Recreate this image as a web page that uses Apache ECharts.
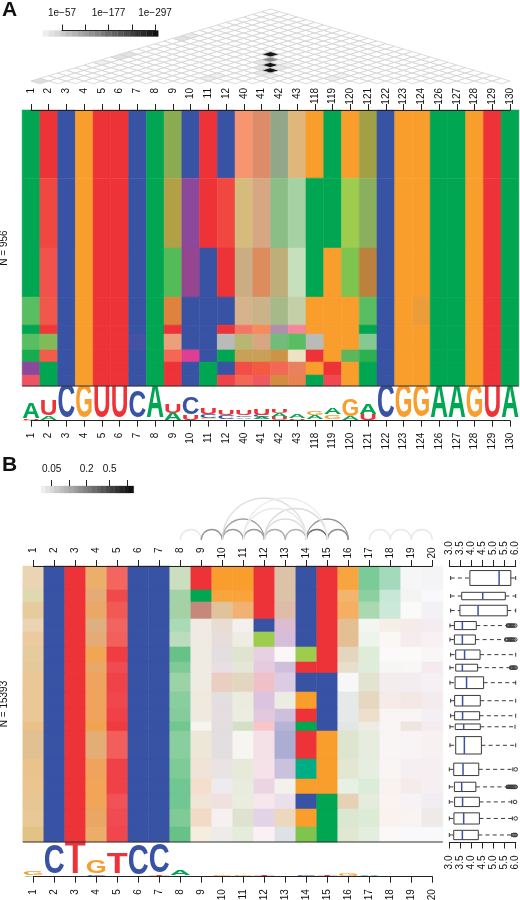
<!DOCTYPE html>
<html><head><meta charset="utf-8">
<style>html,body{margin:0;padding:0;background:#fff}#c{width:520px;height:900px}</style>
<script src="https://cdn.jsdelivr.net/npm/echarts@6/dist/echarts.min.js"></script>
</head><body><div id="c"></div>
<script>
// ---------- axis categories ----------
const columnsA = ['1','2','3','4','5','6','7','8','9','10','11','12','40','41','42','43','118','119','120','121','122','123','124','126','127','128','129','130'];
const columnsB = ['1','2','3','4','5','6','7','8','9','10','11','12','13','14','15','16','17','18','19','20'];
// ---------- cluster sizes (sequences per row) ----------
const rowCountsA = [236,242,170,97,31,55,42,45,38];
const rowCountsB = [1337,669,948,725,837,837,613,1060,948,725,502,1562,1115,837,837,1004,837];
// ---------- panel A composition per row: base + percent, remainder unassigned ----------
const heatA1 = 'A U C G U U C A A45G45 C U C G35U35 A10G25U40 A30C15G15U10 A10G45U10 G A G A35G55U5 C G G A A G U A'.split(' ');
const heatA2 = 'A G10U85 C G U U C A A25C5G65 P U G10U85 A15G45U5 A10C5G30U20 A45G15U5 A35G15 A A L A45G40 C G G A A G U A'.split(' ');
const heatA3 = 'A G10U80 C G U U C A A50L45 P90U10 C U A15C5G30U15 A10G35U35 A20C5G35U10 A22G13 A G L80A20 A20C5G50U25 C G G A A G U A'.split(' ');
const heatA4 = 'A50L40 G15U75 C G U U C A A10G55U30 C C C A12C3G30U15 A15C5G30U12 A30C5G25U5 A20C3G22U2 G G G A50L40 C G A5G85U5 A A G U A'.split(' ');
const heatA5 = 'A U95G5 C G U U C A U C C U G15U60 G45U35 P45A10U10 U40M20 G G G A C G G A A G U A'.split(' ');
const heatA6 = 'A50L40 A35L35G20 C G U U C85P15 A A5G30U30 C C N A25C3G45 A10C5G30U20 A55G18 A50L40 N G G A47G13 C G G A A G U A'.split(' ');
const heatA7 = 'A85L15 G20U70 C G U U C A G20U65 M C A A17C3G55U10 A17C3G55U10 A15C3G60U15 A7G22 U G A55G15L20 A72L28 C G G A A G U A'.split(' ');
const heatA8 = 'P A C G U U C A U C A C G10U82 G28U67 G20U65 A5G30U45 G U G A C G G A A G U A'.split(' ');
const heatA9 = 'U70M15 A C G U U C A U C A U92 G20U65 U70M10G5 A12C3G60U20 A5G40U40 A U85M5 G A C G G A A G U A'.split(' ');
const heatA = [heatA1,heatA2,heatA3,heatA4,heatA5,heatA6,heatA7,heatA8,heatA9];
// ---------- panel B composition per column ----------
const heatB1 = 'A5C3G28T3 A12G28 A5C5G40 A5C3G28T3 A5C3G38T3 A5C5G40 A5C5G42 A3C5G46 A3C5G46 A3C5G46 A3C5G52 A6C6G42T3 A3C5G50 A3C5G48 A4C5G46 A4C5G44 A8C3G50'.split(' ');
const heatB2 = 'C C C C C C C C C C C C C C C C C'.split(' ');
const heatB3 = 'T T T T T T T T T T T T T T T T T'.split(' ');
const heatB4 = 'A2C5G62T5 A3C7G50T10 A2C6G60T8 A5C8G45T8 A3C7G50T10 C5G78T2 A2C6G60T8 C5G68T8 C5G68T8 C5G68T8 C4G80T3 A3C7G52T8 C5G68T8 C4G72T6 C4G72T6 A2C6G62T8 A3C4G62T5'.split(' ');
const heatB5 = 'G10T70 G3T88 G7T78 G8T72 G8T74 T95 T88 T92 T90 T93 T96 G8T75 T93 T93 T85 T88 T90'.split(' ');
const heatB6 = 'C C C C C C C C C C C C C C C C C'.split(' ');
const heatB7 = 'C C C C C C C C C C C C C C C C C'.split(' ');
const heatB8 = 'A20G14 A36G12 A35G14 A33G8 A25C2G10 A60G8 A50G8 A39G10 A46G8 A48G8 A55G8 A46G8 A50G8 A56G6 A56G6 A50G8 A60G8'.split(' ');
const heatB9 = 'T A A12C10G10T40 A2C5G8T1 A2C5G10 A2C5G10 A2C5G10 A2C5G10 A2C5G12 A2C5G11 A1C3G4T1 A4C4G14 A1C6G14T1 C5G18T3 A1C5G15T1 C6G22T2 A1C3G12'.split(' ');
const heatB10 = 'G G92 A5C8G38T2 A2C8G12T4 A2C9G8T4 A3C10G3T5 A1C9G2T7 A1C8G18T8 A3C10G3T5 A2C10G3T6 A3C9G4T5 A3C10G3T5 A2C8G4T4 A1C7G1T3 C7G7T6 C4G2T3 A3C5G4T2'.split(' ');
const heatB11 = 'G G94 C5G60T5 A1C4G3T2 A3C4G8T1 A9C4G13 A7C4G10T1 A4C8G22T1 A6C2G10 A6C2G9 A15C2G14 A1C3G4 A7C3G11 A7C2G10 A7C2G9 A9C4G14 A8C2G9'.split(' ');
const heatB12 = 'T T T C L P20T5 P22T6 P10T22 P32 P25T4 T26P2 P8T8 P8T7 P16T6 P6T7 P24 P3T4'.split(' ');
const heatB13 = 'A5C10G28T6 A5C10G28T6 A4C10G22T12 P28T8 P36 C2G1T2 C10P25 P25C3 A4C4G7T1 C10P25 C28P15 C35P12 C15P20 A1C4G7 C6P8T3 A3C5G27 A2C14G3'.split(' ');
const heatB14 = 'C C C C C L T C G T A T Q G C G L80A20'.split(' ');
const heatB15 = 'T T T T T T T C C C C G G G A A A'.split(' ');
const heatB16 = 'G92 C4G68 C2G70T4 A3C8G42T3 A3C8G42T3 A4C8G24 A3C7G19 A1C3G2 A4C8G3T1 A4C8G3T1 A4C9G4T1 A11C2G13 A9C2G13 A9C1G5 A3C8G30 A13C1G11 A11C1G12'.split(' ');
const heatB17 = 'A52G6 A45G8 A33G10 A3C2G4 A5C2G4 A11C1G8 A13G7 A8C4G14 A3C8G24 A2C6G20 A3C4G9 A8C2G8 A8C2G7 A14G7 A8C2G9 A14G8 A10C1G7'.split(' ');
const heatB18 = 'A34C2G3 A19C3G2 A18C3G2 A1C3G8T1 C2G3T1 C2G1T1 A1C3G3 C5G3T3 C4G5T4 C3G3T1 C3G3T1 C3G3T1 C3G3T1 C3G4T2 C2G4T2 C2G6T2 C2G2T1'.split(' ');
const heatB19 = 'A1C3G1T1 A1C4G3 C2G1T1 C4G3T5 C4G2T5 C2G1T1 C3G2T1 C5G1T4 C5G6T4 C3G3T1 A2C6G8T3 C3G1T3 C4G1T4 C4G3T5 C4G2T2 C3G3T2 C3T1'.split(' ');
const heatB20 = 'A1C4G1T1 C3T1 C6T2 C5T5 C3T5 C3G2T1 C5T6 C5T3 C5G3T4 C6T3 C5T5 C3G1T4 C4G1T4 C4G1T4 C7T3 A2C6G5T2 C3T1'.split(' ');
const heatB = [heatB1,heatB2,heatB3,heatB4,heatB5,heatB6,heatB7,heatB8,heatB9,heatB10,heatB11,heatB12,heatB13,heatB14,heatB15,heatB16,heatB17,heatB18,heatB19,heatB20];
// ---------- significance triangle: [i, j, level], all other pairs are 0 ----------
const pairHitsA = [[8,19,1],[9,18,.5],[10,17,1],[11,16,1],[0,1,.14],[0,8,.07],[0,10,.12],[0,11,.12],[0,17,.12],[0,18,.09],[9,11,.08],[9,12,.06],[16,18,.07],[16,19,.05],[11,18,.06],[10,18,.05],[12,15,.08],[11,15,.1],[10,16,.12],[9,17,.1],[11,17,.1]];
// ---------- co-variation arcs panel B: [i, j, strength] ----------
const arcsB = [[7,8,.06],[8,9,.6],[9,10,.55],[10,11,.55],[11,12,.45],[12,13,.4],[13,14,.85],[14,15,.65],[16,17,.05],[17,18,.05],[18,19,.06],[9,11,.55],[13,15,.6],[11,13,.14],[9,13,.12],[11,14,.14],[10,13,.04],[10,14,.03]];
// ---------- logo stacks: letter + bits*100, bottom to top ----------
const logoA = ['G3 U5 A92','A25 U90','C195','G195','U198','U198','U8 C155','A195','A42 U55','U27 C95','A8 G7 C20 U40','A8 C20 U30','G8 A10 C10 U30','G8 A12 C12 U35','U20 A25 U20','G5 U8 A20','U8 A22 G20','U10 G25 A40','A20 G95','U35 A60','C195','G195','C5 G190','A195','A195','G195','U195','A195'];
const logoB = ['A10 G25','A3 C170','T198','A4 C8 G75','G10 T120','C175','G5 T5 C165','G5 A30','G3','A3 G8','A3 G8','A3 T10','C5','G3 C8','A2 T5','A5 G12','T2 A8','G1','G3','C2'];
// ---------- boxplots panel B ----------
const boxLow  = [3.06,3.06,3.06,3.03,3.03,3.06,3.03,3.03,3.06,3.06,3.03,3.03,3.0,3.0,3.0,3.0,3.0];
const boxQ1   = [3.93,3.56,3.48,3.23,3.23,3.29,3.29,3.26,3.24,3.24,3.27,3.29,3.2,3.23,3.24,3.21,3.2];
const boxMed  = [5.25,4.51,4.3,3.59,3.59,3.69,3.59,3.78,3.6,3.6,3.65,3.68,3.62,3.56,3.6,3.65,3.59];
const boxQ3   = [5.78,5.53,5.62,4.22,4.18,4.39,4.28,4.55,4.4,4.37,4.4,4.45,4.33,4.2,4.36,4.36,4.31];
const boxHigh = [6,6,6,5.6,5.52,6,5.75,6,6,6,5.97,6,5.87,5.6,5.82,5.85,5.82];
const boxOutliers = [[],[],[],[5.65,5.7,5.75,5.8,5.85,5.9,5.98],[5.58,5.63,5.7,5.75,5.8,5.85,5.9,5.98],[],[5.8,5.85,5.9,5.95,6],[],[],[],[],[],[6],[5.65,5.7,5.75,5.8,5.85,5.9,5.95,6],[5.97],[6],[5.9,5.95,6]];
// ---------- colour keys ----------
const keyTicksA = [57,117,177,237,297];
const keyLabelsA = {57:'1e\u221257',177:'1e\u2212177',297:'1e\u2212297'};
const keyLevelsA = [15,30,45,60,74,89,104,119,134,149,164,178,193,208,223,238,253,268,283,298];
const keyTicksB = [0.05,0.1,0.2,0.5,1];
const keyLabelsB = {0.05:'0.05',0.2:'0.2',0.5:'0.5'};
const keyLevelsB = [0.036,0.043,0.052,0.062,0.075,0.09,0.108,0.13,0.156,0.187,0.225,0.27,0.325,0.39,0.47,0.56,0.68,0.81,0.98,1.18];

// ---------- styling ----------
const FONT = '"Liberation Sans",Arial,sans-serif';
const base = {A:[0,166,81],C:[57,83,164],G:[249,157,45],U:[238,51,56],T:[238,51,56],N:[185,187,185],L:[157,204,78],P:[140,72,155],M:[224,62,148],Q:[0,174,134]};
const letterFill = {A:'#00a651',C:'#3953a4',G:'#f99d2d',U:'#ee3338',T:'#ee3338'};
const letterWidth = {A:.722,C:.722,G:.778,U:.722,T:.611};
const AXIS = '#222';
function mix(code){
  let r=0,g=0,b=0,sum=0;
  for(const m of code.matchAll(/([A-Z])(\d*)/g)){
    const w = m[2]===''?1:+m[2]/100, c=base[m[1]];
    r+=w*c[0];g+=w*c[1];b+=w*c[2];sum+=w;
  }
  const rest=Math.max(0,1-sum);
  return `rgb(${Math.round(r+rest*255)},${Math.round(g+rest*255)},${Math.round(b+rest*255)})`;
}
const cumul = a=>{const o=[0];a.forEach(v=>o.push(o[o.length-1]+v));return o;};
const sum = a=>a.reduce((x,y)=>x+y,0);
const grey = t=>{const v=Math.round(238-t*222);return `rgb(${v},${v},${v})`;};

function heatItem(api,c,y0,y1,code){
  const p0=api.coord([c-.5,y0]),p1=api.coord([c+.5,y1]);
  const fill=mix(code);
  return {type:'rect',shape:{x:p0[0],y:p0[1],width:p1[0]-p0[0],height:p1[1]-p0[1]},style:{fill,stroke:fill,lineWidth:.5}};
}
function heatSeries(idx,rows,getCode,nCols){
  const edges=cumul(rows),data=[];
  rows.forEach((_,r)=>{for(let c=0;c<nCols;c++)data.push([c,r]);});
  return {type:'custom',coordinateSystem:'cartesian2d',xAxisIndex:idx,yAxisIndex:idx,data,silent:true,z:1,
    renderItem:(p,api)=>{const c=api.value(0),r=api.value(1);return heatItem(api,c,edges[r],edges[r+1],getCode(c,r));}};
}
function edgeLine(idx,nCols,total){
  return {type:'custom',coordinateSystem:'cartesian2d',xAxisIndex:idx,yAxisIndex:idx,data:[[0,total]],silent:true,z:3,
    renderItem:(p,api)=>{const a=api.coord([-.5,total]),b=api.coord([nCols-.5,total]);
      return {type:'line',shape:{x1:a[0],y1:a[1],x2:b[0],y2:b[1]},style:{stroke:'#333',lineWidth:1.2}};}};
}
function logoSeries(idx,stacks){
  const items=[];
  stacks.forEach((s,c)=>{let y=0;s.split(' ').forEach(t=>{const h=+t.slice(1)/100;items.push({c,y0:y,y1:y+h,l:t[0]});y+=h;});});
  const F=40;
  return {type:'custom',coordinateSystem:'cartesian2d',xAxisIndex:idx,yAxisIndex:idx,silent:true,z:2,
    data:items.map(o=>[o.c,o.y0]),
    renderItem:(p,api)=>{const o=items[p.dataIndex];
      const a=api.coord([o.c,o.y0]),b=api.coord([o.c,o.y1]),w=api.size([1,0])[0];
      return {type:'text',x:a[0],y:(a[1]+b[1])/2,scaleX:w*1.0/(F*letterWidth[o.l]),scaleY:(a[1]-b[1])/(F*.70),
        style:{text:o.l,fill:letterFill[o.l],font:`bold ${F}px ${FONT}`,textAlign:'center',textVerticalAlign:'middle',align:'center',verticalAlign:'middle'}};}};
}
function keySeries(idx,levels,toPos,dW){
  const pos=levels.map(toPos);
  return {type:'custom',coordinateSystem:'cartesian2d',xAxisIndex:idx,yAxisIndex:idx,silent:true,z:1,data:levels.map((v,i)=>[pos[i],0]),
    renderItem:(p,api)=>{const i=p.dataIndex,v=pos[i];
      const a=api.coord([v-dW/2,1]),b=api.coord([v+dW/2,0]),f=grey(i/(levels.length-1));
      return {type:'rect',shape:{x:a[0],y:a[1],width:b[0]-a[0],height:b[1]-a[1]},style:{fill:f,stroke:f,lineWidth:.3}};}};
}

// ---------- grids ----------
const grids=[
 {left:62,width:93,top:30.5,height:6},          //0 key A
 {left:31,width:479,top:9,height:74.7},         //1 triangle
 {left:31,width:479,top:110,height:276},        //2 heat A
 {left:31,width:479,top:386.7,height:34},       //3 logo A
 {left:51.7,width:75.4,top:486,height:7},       //4 key B
 {left:33.3,width:399,top:495,height:45},       //5 arcs
 {left:33.3,width:399,top:566,height:276},      //6 heat B
 {left:33.3,width:399,top:843,height:33.7},     //7 logo B
 {left:449.3,width:66.4,top:566,height:276.5}   //8 boxes
].map(g=>Object.assign(g,{outerBoundsMode:'none',containLabel:false}));
const lab=(extra)=>Object.assign({color:'#111',fontSize:10,fontFamily:FONT,hideOverlap:false,showMinLabel:true,showMaxLabel:true},extra);
const line={show:true,lineStyle:{color:AXIS,width:1},onZero:false};
const tick=(len)=>({show:true,length:len,lineStyle:{color:AXIS,width:1}});
function colAxis(g,cats,pos,margin){
  const top=pos==='top';
  return {type:'value',gridIndex:g,position:pos,min:0,max:cats.length-1,interval:1,z:10,splitLine:{show:false},
    axisLine:line,axisTick:tick(6),
    // the top position mirrors the label rotation, hence the sign
    axisLabel:lab({rotate:top?-90:90,align:'right',verticalAlign:'middle',margin,formatter:v=>cats[v]})};
}
const hiddenX=(g,max)=>({type:'value',gridIndex:g,min:0,max,show:false});
const hiddenY=(g,max,inv)=>({type:'value',gridIndex:g,min:0,max,show:false,inverse:!!inv});
const yName=(g,total,name,gap)=>({type:'value',gridIndex:g,min:0,max:total,inverse:true,
  axisLine:{show:false},axisTick:{show:false},axisLabel:{show:false},splitLine:{show:false},
  name,nameLocation:'middle',nameGap:gap,nameRotate:90,nameTextStyle:{color:'#111',fontSize:10,fontFamily:FONT}});

const logKeyTicks=keyTicksB.map(v=>Math.log10(v));
const xAxes=[
 {type:'value',gridIndex:0,position:'top',min:57,max:297,z:10,splitLine:{show:false},axisLine:line,axisTick:Object.assign(tick(6),{customValues:keyTicksA}),
  axisLabel:lab({customValues:[57,177,297],margin:12,formatter:v=>keyLabelsA[v]})},
 hiddenX(1,columnsA.length-1),
 colAxis(2,columnsA,'top',22),
 colAxis(3,columnsA,'bottom',12),
 {type:'value',gridIndex:4,position:'top',min:Math.log10(.05),max:0,z:10,splitLine:{show:false},axisLine:{show:false,onZero:false},axisTick:Object.assign(tick(6),{customValues:logKeyTicks}),
  axisLabel:lab({customValues:[.05,.2,.5].map(v=>Math.log10(v)),margin:12,formatter:v=>keyLabelsB[+Math.pow(10,v).toFixed(2)]})},
 hiddenX(5,columnsB.length-1),
 colAxis(6,columnsB,'top',18.5),
 colAxis(7,columnsB,'bottom',12.5),
 {type:'value',gridIndex:8,position:'top',min:3,max:6,interval:.5,z:10,splitLine:{show:false},axisLine:line,axisTick:tick(6),
  axisLabel:lab({rotate:-90,align:'left',verticalAlign:'middle',margin:11,formatter:v=>v.toFixed(1)})},
 {type:'value',gridIndex:8,position:'bottom',min:3,max:6,interval:.5,z:10,splitLine:{show:false},axisLine:line,axisTick:tick(6),
  axisLabel:lab({rotate:90,align:'right',verticalAlign:'middle',margin:13,formatter:v=>v.toFixed(1)})}
];
const totalA=sum(rowCountsA),totalB=sum(rowCountsB);
const yAxes=[
 hiddenY(0,1),hiddenY(1,28),yName(2,totalA,'N = 956',22),hiddenY(3,2),
 hiddenY(4,1),hiddenY(5,1),yName(6,totalB,'N = 15393',24),hiddenY(7,2),
 hiddenY(8,totalB,true)
];

// ---------- triangle ----------
const triData=[];
for(let i=0;i<columnsA.length;i++)for(let j=i+1;j<columnsA.length;j++){
  const h=pairHitsA.find(q=>q[0]===i&&q[1]===j);
  triData.push([(i+j)/2,j-i,h?h[2]:0]);
}
const triSeries={type:'custom',coordinateSystem:'cartesian2d',xAxisIndex:1,yAxisIndex:1,data:triData,silent:true,z:2,
 renderItem:(p,api)=>{const x=api.value(0),d=api.value(1),v=api.value(2);
  const pts=[[x-.5,d],[x,d+1],[x+.5,d],[x,d-1]].map(q=>api.coord(q));
  const s=Math.round(255-v*235);
  return {type:'polygon',z2:v>0?2:1,shape:{points:pts},style:{fill:`rgb(${s},${s},${s})`,stroke:'#d2d2d2',lineWidth:.8}};}};

// ---------- arcs ----------
const arcSeries={type:'custom',coordinateSystem:'cartesian2d',xAxisIndex:5,yAxisIndex:5,data:arcsB,silent:true,z:2,
 renderItem:(p,api)=>{const i=api.value(0),j=api.value(1),v=api.value(2);
  const c=api.coord([(i+j)/2,0]),r=api.size([j-i,0])[0]/2,g=Math.round(240-v*150);
  return {type:'arc',shape:{cx:c[0],cy:c[1],r,startAngle:Math.PI,endAngle:2*Math.PI,clockwise:true},
    style:{fill:'none',stroke:`rgb(${g},${g},${g})`,lineWidth:1.3}};}};

// ---------- boxplots ----------
const edgesB=cumul(rowCountsB);
const boxSeries={type:'custom',coordinateSystem:'cartesian2d',xAxisIndex:8,yAxisIndex:8,silent:true,z:3,data:rowCountsB.map((_,r)=>[boxMed[r],r]),
 renderItem:(p,api)=>{const r=p.dataIndex;
  const top=api.coord([3,edgesB[r]])[1],bot=api.coord([3,edgesB[r+1]])[1],mid=(top+bot)/2,h=(bot-top)*.62;
  const X=v=>api.coord([v,0])[0],dark='#3a3a3a',ch=[];
  const seg=(a,b,c,d,st)=>ch.push({type:'line',shape:{x1:a,y1:b,x2:c,y2:d},style:st});
  const solid={stroke:dark,lineWidth:1},dash={stroke:dark,lineWidth:1,lineDash:[4,3.2]};
  seg(X(boxLow[r]),mid,X(boxQ1[r]),mid,dash);
  seg(X(boxQ3[r]),mid,X(boxHigh[r]),mid,dash);
  seg(X(boxLow[r]),mid-2,X(boxLow[r]),mid+2,solid);
  seg(X(boxHigh[r]),mid-2,X(boxHigh[r]),mid+2,solid);
  ch.push({type:'rect',shape:{x:X(boxQ1[r]),y:mid-h/2,width:X(boxQ3[r])-X(boxQ1[r]),height:h},style:{fill:'none',stroke:dark,lineWidth:1}});
  seg(X(boxMed[r]),mid-h/2,X(boxMed[r]),mid+h/2,{stroke:'#3953a4',lineWidth:1.5});
  boxOutliers[r].forEach(v=>ch.push({type:'circle',shape:{cx:X(v),cy:mid,r:1.8},style:{fill:'none',stroke:dark,lineWidth:1}}));
  return {type:'group',children:ch};}};

const series=[
 keySeries(0,keyLevelsA,v=>v,14.9),
 triSeries,
 heatSeries(2,rowCountsA,(c,r)=>heatA[r][c],columnsA.length),
 edgeLine(2,columnsA.length,totalA),
 logoSeries(3,logoA),
 keySeries(4,keyLevelsB,v=>Math.log10(v),0.0835),
 arcSeries,
 heatSeries(6,rowCountsB,(c,r)=>heatB[c][r],columnsB.length),
 edgeLine(6,columnsB.length,totalB),
 logoSeries(7,logoB),
 boxSeries
];
const panelTitle=(text,top)=>({text,left:2,top,padding:0,textStyle:{fontSize:21,fontWeight:'bold',color:'#111',fontFamily:FONT}});
const chart=echarts.init(document.getElementById('c'),null,{renderer:'canvas'});
chart.setOption({animation:false,backgroundColor:'#fff',
  title:[panelTitle('A',0),panelTitle('B',455)],
  grid:grids,xAxis:xAxes,yAxis:yAxes,series});
</script></body></html>
